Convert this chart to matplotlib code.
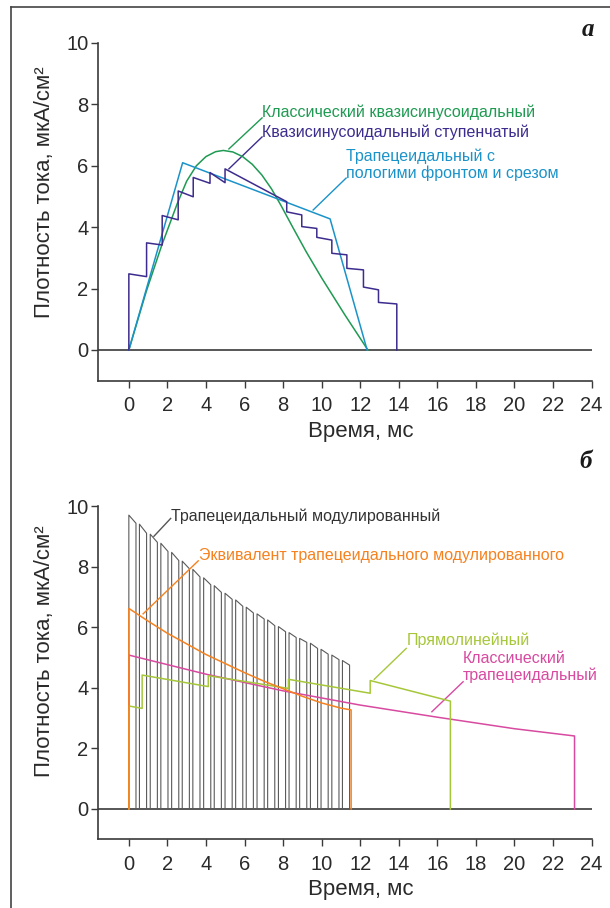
import matplotlib
matplotlib.use("Agg")
import matplotlib.pyplot as plt
from matplotlib.lines import Line2D

plt.rcParams['font.family'] = ['Liberation Sans', 'DejaVu Sans']

# ---------------- data: panel a ----------------
sine_t = [0, 0.9, 1.7, 2.5, 3.0, 3.5, 4.0, 4.5, 4.9, 5.4, 5.9, 6.4, 6.9, 7.4, 7.9,
          8.5, 9.2, 10.0, 11.2, 12.4]
sine_v = [0, 1.9, 3.4, 4.75, 5.5, 6.0, 6.3, 6.46, 6.5, 6.45, 6.3, 6.05, 5.7, 5.25, 4.7,
          4.0, 3.2, 2.35, 1.15, 0]

step_t = [0, 0, 0.92, 0.92, 1.73, 1.73, 2.56, 2.56, 3.34, 3.34, 4.21, 4.21, 4.99, 4.99,
          8.19, 8.19, 8.97, 8.97, 9.75, 9.75, 10.53, 10.53, 11.31, 11.31, 12.17, 12.17,
          12.95, 12.95, 13.9, 13.9]
step_v = [0, 2.48, 2.39, 3.49, 3.42, 4.38, 4.24, 5.18, 4.99, 5.62, 5.43, 5.78, 5.45, 5.9,
          4.83, 4.5, 4.4, 4.02, 3.96, 3.67, 3.58, 3.15, 3.1, 2.66, 2.61, 2.05, 1.96, 1.55,
          1.5, 0]

trap_t = [0, 2.79, 10.44, 12.36]
trap_v = [0, 6.1, 4.27, 0]

# ---------------- data: panel b ----------------
pulse_start = [0, 0.55, 1.11, 1.66, 2.22, 2.77, 3.32, 3.88, 4.43, 4.99, 5.54,
               6.09, 6.65, 7.2, 7.76, 8.31, 8.86, 9.42, 9.97, 10.53, 11.08]
pulse_top_start = [9.70, 9.40, 9.07, 8.77, 8.47, 8.18, 7.91, 7.63, 7.37, 7.12, 6.90,
                   6.66, 6.44, 6.24, 6.02, 5.82, 5.63, 5.47, 5.27, 5.08, 4.90]
pulse_top_end = [9.43, 9.10, 8.80, 8.50, 8.20, 7.93, 7.66, 7.40, 7.15, 6.92, 6.69,
                 6.47, 6.27, 6.05, 5.85, 5.66, 5.50, 5.30, 5.11, 4.93, 4.75]
pulse_width = 0.37

equiv_t = [0, 0, 1, 2, 3, 4, 5, 6, 7, 8, 9, 10, 11, 11.53, 11.53]
equiv_v = [0, 6.62, 6.2, 5.8, 5.45, 5.1, 4.8, 4.5, 4.22, 3.97, 3.72, 3.5, 3.33, 3.27, 0]

rect_t = [0, 0, 0.69, 0.69, 4.12, 4.12, 8.28, 8.28, 12.52, 12.52, 16.68, 16.68]
rect_v = [0, 3.4, 3.32, 4.42, 4.04, 4.40, 3.98, 4.28, 3.82, 4.24, 3.56, 0]

ctrap_t = [0, 0, 4, 8, 12, 16, 20, 23.12, 23.12]
ctrap_v = [0, 5.08, 4.45, 3.9, 3.43, 3.03, 2.65, 2.41, 0]

x_ticks = list(range(0, 25, 2))
y_ticks = [0, 2, 4, 6, 8, 10]

# colours
C_GREEN = '#1f9a52'
C_PURPLE = '#3d2c8d'
C_BLUE = '#1b93c9'
C_GRAY = '#5a5a5a'
C_ORANGE = '#f5821f'
C_YGREEN = '#a6c73a'
C_PINK = '#d84aa0'
C_AX = '#3a3a3a'

W, H = 610, 908
fig = plt.figure(figsize=(W / 100, H / 100), dpi=100)

def make_ax(top_px, bottom_px):
    ax = fig.add_axes([98 / W, 1 - bottom_px / H, 493.5 / W, (bottom_px - top_px) / H])
    ax.set_xlim(-1.6, 24)
    ax.set_ylim(-1, 10)
    for s in ('top', 'right'):
        ax.spines[s].set_visible(False)
    for s in ('left', 'bottom'):
        ax.spines[s].set_color(C_AX)
        ax.spines[s].set_linewidth(1.2)
    ax.set_xticks(x_ticks)
    ax.set_yticks(y_ticks)
    ax.tick_params(axis='both', direction='out', length=5, width=1.0, color=C_AX,
                   labelsize=14.5, labelcolor='#2a2a2a')
    ax.tick_params(axis='x', pad=6)
    ax.tick_params(axis='y', pad=2)
    ax.axhline(0, color=C_AX, lw=1.2, zorder=1)
    return ax

ax1 = make_ax(43, 380.7)
ax2 = make_ax(506, 839.3)

# ---------- panel a ----------
lw = 1.1
ax1.plot(sine_t, sine_v, color=C_GREEN, lw=lw, zorder=3)
ax1.plot(trap_t, trap_v, color=C_BLUE, lw=lw, zorder=3)
ax1.plot(step_t, step_v, color=C_PURPLE, lw=lw, zorder=4)

fs_ann = 11.5
ax1.text(6.91, 7.75, 'Классический квазисинусоидальный', color=C_GREEN, fontsize=fs_ann,
         ha='left', va='center')
ax1.plot([6.91, 5.19], [7.56, 6.55], color=C_GREEN, lw=1.0)
ax1.text(6.91, 7.10, 'Квазисинусоидальный ступенчатый', color=C_PURPLE, fontsize=fs_ann,
         ha='left', va='center')
ax1.plot([6.91, 5.19], [6.94, 5.9], color=C_PURPLE, lw=1.0)
ax1.text(11.27, 6.03, 'Трапецеидальный с\nпологими фронтом и срезом', color=C_BLUE,
         fontsize=fs_ann, ha='left', va='center', linespacing=1.15)
ax1.plot([11.27, 9.56], [5.6, 4.56], color=C_BLUE, lw=1.0)

# ---------- panel b ----------
for t0, a, b in zip(pulse_start, pulse_top_start, pulse_top_end):
    ax2.plot([t0, t0, t0 + pulse_width, t0 + pulse_width], [0, a, b, 0],
             color=C_GRAY, lw=0.8, zorder=2)
ax2.plot(ctrap_t, ctrap_v, color=C_PINK, lw=lw, zorder=3)
ax2.plot(rect_t, rect_v, color=C_YGREEN, lw=lw, zorder=3)
ax2.plot(equiv_t, equiv_v, color=C_ORANGE, lw=lw, zorder=4)

ax2.text(2.17, 9.67, 'Трапецеидальный модулированный', color='#333333', fontsize=fs_ann,
         ha='left', va='center')
ax2.plot([2.17, 1.30], [9.59, 9.0], color='#555555', lw=1.0)
ax2.text(3.65, 8.38, 'Эквивалент трапецеидального модулированного', color=C_ORANGE,
         fontsize=fs_ann, ha='left', va='center')
ax2.plot([3.6, 0.74], [8.19, 6.44], color=C_ORANGE, lw=1.0)
ax2.text(14.43, 5.58, 'Прямолинейный', color=C_YGREEN, fontsize=fs_ann,
         ha='left', va='center')
ax2.plot([14.39, 12.73], [5.30, 4.28], color=C_YGREEN, lw=1.0)
ax2.text(17.34, 4.69, 'Классический\nтрапецеидальный', color=C_PINK, fontsize=fs_ann,
         ha='left', va='center', linespacing=1.15)
ax2.plot([17.34, 15.72], [4.20, 3.21], color=C_PINK, lw=1.0)

# ---------- labels ----------
ylab = 'Плотность тока, мкА/см²'
fig.text(45 / W, 1 - 192 / H, ylab, rotation=90, ha='center', va='center',
         fontsize=16, color='#2a2a2a')
fig.text(45 / W, 1 - 651 / H, ylab, rotation=90, ha='center', va='center',
         fontsize=16, color='#2a2a2a')
fig.text(361 / W, 1 - 431 / H, 'Время, мс', ha='center', va='center', fontsize=16,
         color='#2a2a2a')
fig.text(361 / W, 1 - 889 / H, 'Время, мс', ha='center', va='center', fontsize=16,
         color='#2a2a2a')

fig.text(588 / W, 1 - 29 / H, 'а', ha='center', va='center', fontsize=18,
         family='Liberation Serif', style='italic', weight='bold', color='#1a1a1a')
fig.text(586 / W, 1 - 461 / H, 'б', ha='center', va='center', fontsize=18,
         family='Liberation Serif', style='italic', weight='bold', color='#1a1a1a')

# frame (top and left)
fig.add_artist(Line2D([11 / W, 11 / W], [0, 1 - 7 / H], transform=fig.transFigure,
                      color='#444444', lw=1.2))
fig.add_artist(Line2D([11 / W, 1], [1 - 7 / H, 1 - 7 / H], transform=fig.transFigure,
                      color='#444444', lw=1.2))

fig.savefig('out.png', dpi=100)
